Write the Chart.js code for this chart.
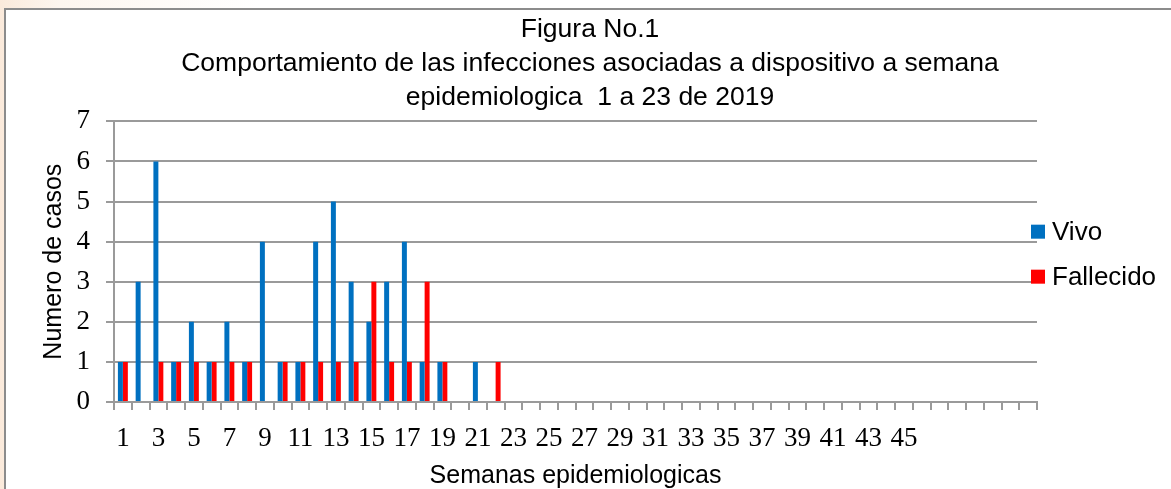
<!DOCTYPE html>
<html>
<head>
<meta charset="utf-8">
<script src="https://cdn.jsdelivr.net/npm/chart.js@4"></script>
<style>
  html, body { margin: 0; padding: 0; width: 1171px; height: 489px; overflow: hidden;
    background: linear-gradient(to right, #fbeadb 0px, #fdf6ef 60px, #ffffff 260px); }
  #frame { position: absolute; left: 4px; top: 8px; width: 1200px; height: 500px;
    border-left: 2px solid #8c8c8c; border-top: 2px solid #8c8c8c; background: #fff; }
  #c { position: absolute; left: 0; top: 0; }
</style>
</head>
<body>
<div id="frame"><canvas id="c" width="1171" height="479"></canvas></div>
<script>
// Semanas epidemiologicas (categories); labels beyond 46 are blank in the original
const weekLabels = ['1','2','3','4','5','6','7','8','9','10','11','12','13','14','15','16','17','18','19','20',
  '21','22','23','24','25','26','27','28','29','30','31','32','33','34','35','36','37','38','39','40',
  '41','42','43','44','45','46','','','','','',''];
const vivo = [1,3,6,1,2,1,2,1,4,1,1,4,5,3,2,3,4,1,1,0,1,0,0,0,0,0,0,0,0,0,0,0,0,0,0,0,0,0,0,0,0,0,0,0,0,0,0,0,0,0,0,0];
const fallecido = [1,0,1,1,1,1,1,1,0,1,1,1,1,1,3,1,1,3,1,0,0,1,0,0,0,0,0,0,0,0,0,0,0,0,0,0,0,0,0,0,0,0,0,0,0,0,0,0,0,0,0,0];
const yTicks = [0,1,2,3,4,5,6,7];
const titleLines = ['Figura No.1',
  'Comportamiento de las infecciones asociadas a dispositivo a semana',
  'epidemiologica  1 a 23 de 2019'];

const SANS = '"Liberation Sans", Arial, sans-serif';
const SERIF = '"Liberation Serif", "DejaVu Serif", serif';
const GRID = '#9a9a9a';

const sideLegend = {
  id: 'sideLegend',
  afterDraw(chart) {
    const ctx = chart.ctx, a = chart.chartArea;
    const ds = chart.data.datasets;
    const spacing = 45, box = 14;
    const cy = (a.top + a.bottom) / 2 - 7.5;
    const y0 = cy - spacing * (ds.length - 1) / 2;
    ctx.save();
    ctx.font = '26px ' + SANS;
    ctx.textBaseline = 'middle';
    ctx.textAlign = 'left';
    ds.forEach((d, i) => {
      const y = y0 + i * spacing;
      ctx.fillStyle = d.backgroundColor;
      ctx.fillRect(a.right - 6, y - box / 2, box, box);
      ctx.fillStyle = '#000';
      ctx.fillText(d.label, a.right + 15, y + 1);
    });
    ctx.restore();
  }
};

new Chart(document.getElementById('c'), {
  type: 'bar',
  data: {
    labels: weekLabels,
    datasets: [
      { label: 'Vivo', data: vivo, backgroundColor: '#0070C0', borderWidth: 0, yAxisID: 'y' },
      { label: 'Fallecido', data: fallecido, backgroundColor: '#FF0000', borderWidth: 0, yAxisID: 'y' }
    ]
  },
  options: {
    responsive: false,
    animation: false,
    devicePixelRatio: 1,
    layout: { padding: { left: 31, right: 34, top: 0, bottom: 0 } },
    datasets: { bar: { categoryPercentage: 0.56, barPercentage: 1.0 } },
    plugins: {
      legend: { display: false },
      tooltip: { enabled: false },
      title: {
        display: true,
        text: titleLines,
        color: '#000',
        font: { family: SANS, size: 26.5, weight: 'normal', lineHeight: 1.3 },
        padding: { top: 2, bottom: 6 }
      }
    },
    scales: {
      x: {
        offset: true,
        afterFit: function(s) { s.height = 87; },
        grid: { drawOnChartArea: false, drawTicks: true, tickLength: 8, color: GRID, lineWidth: 2, offset: true },
        border: { display: true, color: GRID, width: 2 },
        ticks: {
          autoSkip: false, maxRotation: 0, minRotation: 0, padding: 13,
          color: '#000', font: { family: SERIF, size: 27 },
          callback: function(v, i) { return i % 2 === 0 ? weekLabels[i] : ''; }
        },
        title: {
          display: true, text: 'Semanas epidemiologicas', color: '#000',
          font: { family: SANS, size: 25 }, padding: { top: 0, bottom: -2 }
        }
      },
      y: {
        min: yTicks[0], max: yTicks[yTicks.length - 1],
        afterBuildTicks: function(s) { s.ticks = yTicks.map(v => ({ value: v })); },
        afterFit: function(s) { s.width = 77; },
        grid: { color: GRID, lineWidth: 2, drawTicks: true, tickLength: 8 },
        border: { display: true, color: GRID, width: 2 },
        ticks: { padding: 16, color: '#000', font: { family: SERIF, size: 27 } },
        title: {
          display: true, text: 'Numero de casos', color: '#000',
          font: { family: SANS, size: 25 }, padding: { top: 2, bottom: 0 }
        }
      },
      yR: {
        position: 'right',
        display: true,
        afterFit: function(s) { s.width = 106; },
        grid: { display: false, drawTicks: false },
        border: { display: false },
        ticks: { display: false }
      }
    }
  },
  plugins: [sideLegend]
});
</script>
</body>
</html>
